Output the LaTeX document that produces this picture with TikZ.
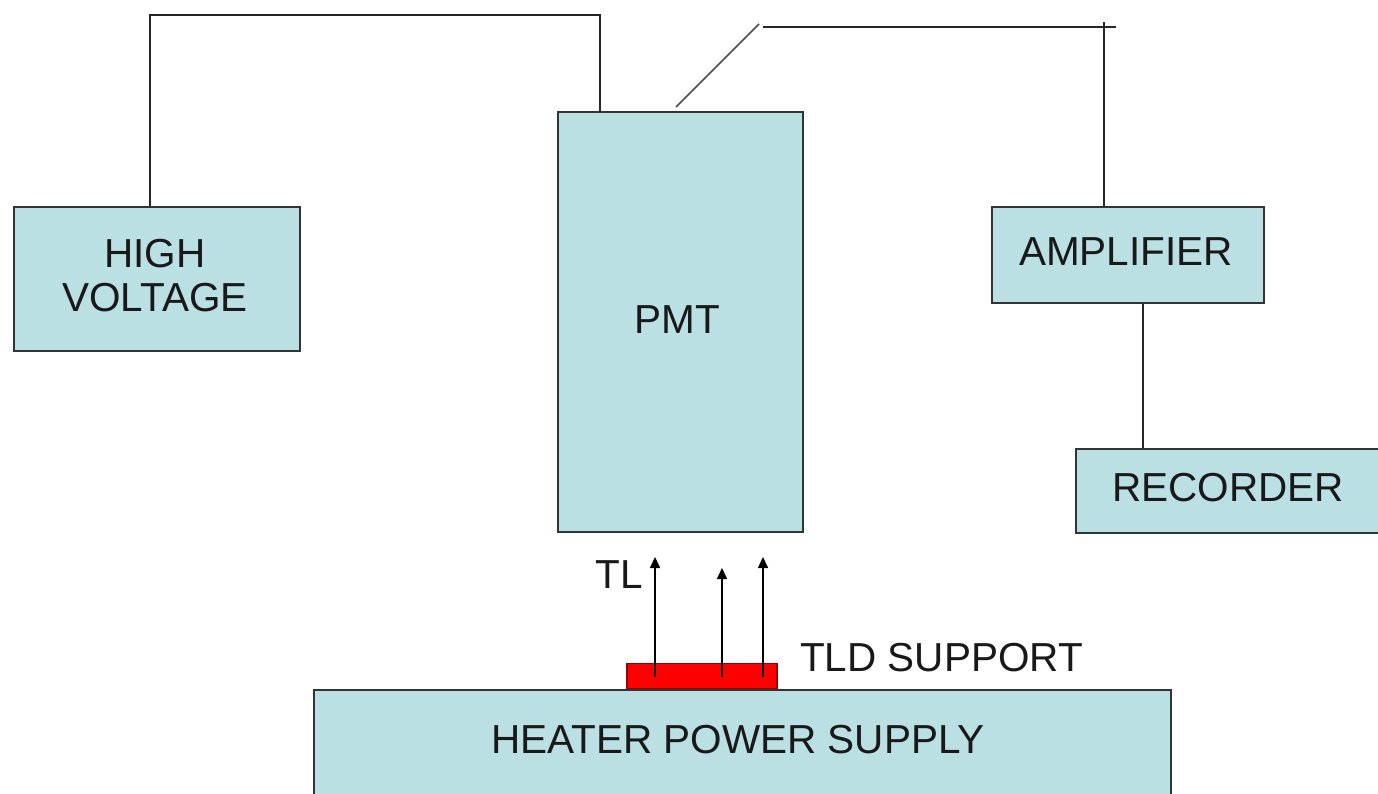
\documentclass[tikz,border=0pt]{standalone}
\usepackage{fontspec}
\setmainfont{Liberation Sans}
\usetikzlibrary{arrows.meta}
\definecolor{boxfill}{HTML}{BAE0E3}
\definecolor{boxline}{HTML}{333333}
\definecolor{tldred}{HTML}{FF0000}
\begin{document}
\begin{tikzpicture}[x=1pt,y=-1pt,
  box/.style={draw=boxline,fill=boxfill,line width=1.8pt,inner sep=0pt,
    font=\fontsize{40.5}{44}\selectfont,align=center,text=black!90},
  wire/.style={draw=black!85,line width=1.8pt},
  ray/.style={draw=black,line width=1.5pt,-{Triangle[length=11pt,width=10pt]}},
  lbl/.style={font=\fontsize{40.5}{44}\selectfont,text=black!90,inner sep=0pt}]
\useasboundingbox[fill=white] (0,0) rectangle (1378,794);
\clip (0,0) rectangle (1378,794);
% boxes
\node[box,minimum width=286pt,minimum height=144pt] (hv) at (157,279) {};
\node[lbl,align=center] (hvtxt) at (155,276) {HIGH\\VOLTAGE};
\node[box,minimum width=245pt,minimum height=420pt] (pmt) at (680.5,322) {};
\node[lbl] (pmttxt) at (677,320) {PMT};
\node[box,minimum width=272pt,minimum height=96pt] (amp) at (1128,255) {};
\node[lbl] (amptxt) at (1126,252) {AMPLIFIER};
\node[box,minimum width=320pt,minimum height=84pt,anchor=north west] (rec) at (1075,448) {};
\node[lbl] (rectxt) at (1228,488) {RECORDER};
\node[box,minimum width=857pt,minimum height=130pt,anchor=north west] (heat) at (313,689) {};
\node[lbl] (heattxt) at (738,740) {HEATER POWER SUPPLY};
\node[draw=red!60!black,fill=tldred,line width=1.5pt,minimum width=150pt,minimum height=25pt,inner sep=0pt,anchor=south west] (tld) at (626,689) {};
% labels
\node[lbl] (tl) at (619,575) {TL};
\node[lbl,anchor=west] (tldl) at (800,658) {TLD SUPPORT};
% high voltage wiring
\coordinate (a1) at (150,15);
\coordinate (a2) at (600,15);
\draw[wire] (hv.north -| a1) -- (a1) -- (a2) -- (a2 |- pmt.north);
% switch
\coordinate (s0) at (676,107);
\coordinate (s1) at (759,24);
\coordinate (s2) at (763,27);
\coordinate (s3) at (1116,27);
\coordinate (s4) at (1104,22);
\draw[wire,line width=1.5pt,draw=black!70] (s0) -- (s1);
\draw[wire] (s2) -- (s3);
\draw[wire] (s4) -- (s4 |- amp.north);
% amplifier to recorder
\coordinate (ar) at (1143,0);
\draw[wire] (amp.south -| ar) -- (rec.north -| ar);
% TL rays
\coordinate (r1) at (655,677);
\coordinate (r2) at (722,677);
\coordinate (r3) at (763,677);
\coordinate (t1) at (655,557);
\coordinate (t2) at (722,568);
\coordinate (t3) at (763,557);
\draw[ray] (r1) -- (t1);
\draw[ray] (r2) -- (t2);
\draw[ray] (r3) -- (t3);
\end{tikzpicture}
\end{document}
